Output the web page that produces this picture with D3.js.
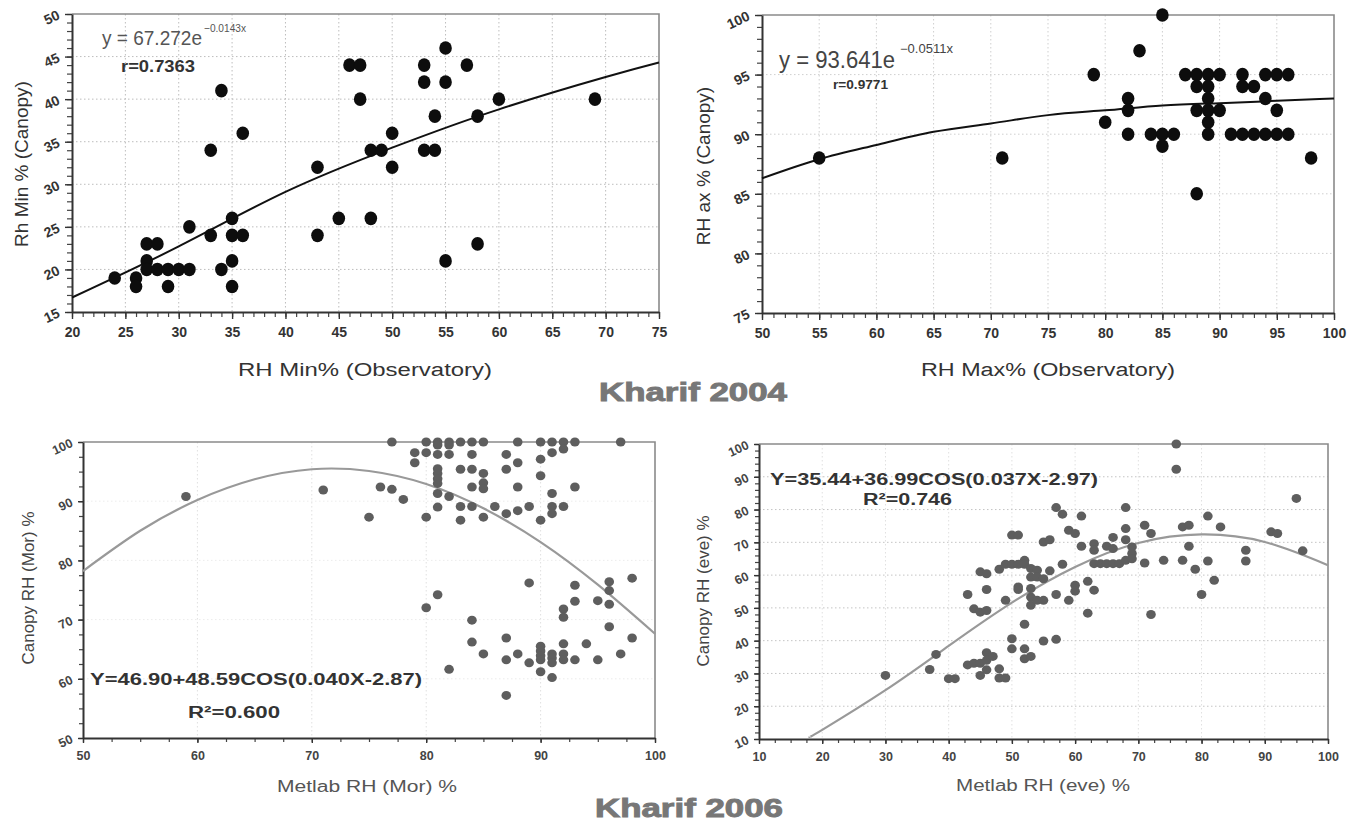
<!DOCTYPE html>
<html>
<head>
<meta charset="utf-8">
<title>Kharif RH canopy vs observatory</title>
<script src="https://cdn.jsdelivr.net/npm/d3@7"></script>
<style>
  body { margin: 0; background: #fff; }
  text { font-family: Arial, "Liberation Sans", sans-serif; }
</style>
</head>
<body>
<svg id="mainsvg" width="1361" height="829"></svg>
<script>
// ---- values ----
// Kharif 2004, RH min: observatory (x) vs canopy (y)
const rhMinPoints = [[24,19],[26,19],[26,18],[27,23],[27,21],[27,20],[28,23],[28,20],[29,20],[29,18],[30,20],[31,20],[31,25],
  [33,24],[33,34],[34,41],[34,20],[35,26],[35,24],[35,21],[35,18],[36,36],[36,24],[43,32],[43,24],[45,26],[46,44],[47,44],
  [47,40],[48,34],[48,26],[49,34],[50,36],[50,32],[53,44],[53,42],[53,34],[54,38],[54,34],[55,46],[55,42],[55,21],[57,44],
  [58,38],[58,23],[60,40],[69,40]];
const rhMinCurve = [[20,16.7],[30,22.7],[40,29.1],[50,34.3],[60,38.8],[70,42.6],[75,44.3]];

// Kharif 2004, RH max
const rhMaxPoints = [[55,88],[71,88],[79,95],[80,91],[82,93],[82,92],[82,90],[83,97],[84,90],[85,100],[85,90],[85,89],[86,90],
  [87,95],[88,95],[88,94],[88,92],[88,85],[89,95],[89,94],[89,93],[89,92],[89,91],[89,90],[90,95],[90,92],[91,90],[92,95],
  [92,94],[92,90],[93,94],[93,90],[94,95],[94,93],[94,90],[95,95],[95,92],[95,90],[96,95],[96,90],[98,88]];
const rhMaxCurve = [[50,86.3],[55,87.9],[60,89.1],[65,90.2],[70,90.9],[75,91.6],[80,92.0],[85,92.4],[90,92.6],[95,92.8],[100,93.0]];

// Kharif 2006, morning RH
const morPoints = [[59,90.8],[71,91.9],[75,87.3],[76,92.4],[77,100],[77,92],[78,90.3],[79,98.2],[79,96.5],[80,100],[80,98.2],
  [80,87.3],[80,72],[81,100],[81,99.5],[81,97.9],[81,95.5],[81,94.7],[81,93.8],[81,93],[81,91.3],[81,89],[81,74.2],[82,100],
  [82,99.5],[82,97.9],[82,90.8],[82,61.6],[83,100],[83,95.4],[83,89.1],[83,86.8],[84,100],[84,97.9],[84,95.4],[84,92.4],[84,89.1],
  [84,69.9],[84,66.2],[85,100],[85,94.7],[85,93.1],[85,92.1],[85,87.3],[85,64.2],[86,89.1],[87,97.9],[87,95.4],[87,87.9],[87,66.9],
  [87,63.2],[87,57.2],[88,100],[88,96.5],[88,92.4],[88,88.4],[88,64.2],[89,89.1],[89,76.2],[89,62.7],[90,100],[90,97.1],[90,94.3],
  [90,86.8],[90,65.5],[90,64.7],[90,63.9],[90,63.2],[90,61.2],[91,100],[91,98.2],[91,91.3],[91,89.1],[91,87.9],[91,64.2],[91,63.5],
  [91,62.7],[91,60.2],[92,100],[92,98.8],[92,89.1],[92,71.8],[92,70.4],[92,65.9],[92,64.2],[92,63.2],[93,100],[93,92.4],[93,75.8],
  [93,73.1],[93,63.2],[94,65.9],[95,73.2],[95,63.2],[96,76.4],[96,74.9],[96,72.6],[96,68.8],[97,100],[97,64.2],[98,77],[98,66.9]];
const morCurve = [[50,78.2],[55,85.0],[60,90.2],[65,93.7],[70,95.4],[75,95.1],[80,92.9],[85,88.8],[90,83.1],[95,75.9],[100,67.6]];

// Kharif 2006, evening RH
const evePoints = [[30,29.4],[37,31.2],[38,35.8],[40,28.4],[41,28.4],[43,54.1],[43,32.6],[44,49.7],[44,33.1],[45,61],[45,48.7],
  [45,33.1],[45,29.4],[46,60.4],[46,55.6],[46,49.2],[46,36.3],[46,34],[46,31.1],[47,35.2],[48,61.8],[48,31.4],[48,28.6],[49,52.3],
  [49,63.3],[49,28.6],[50,72.2],[50,63.3],[50,40.6],[50,37.5],[51,72.2],[51,63.3],[51,56.4],[51,55.6],[52,64.5],[52,63.3],[52,45],
  [52,37.5],[52,34.5],[53,62],[53,59.4],[53,55.9],[53,53.3],[53,50.8],[53,35.2],[54,61.5],[54,59.4],[54,52.3],[55,70.1],[55,58.9],
  [55,52.3],[55,39.9],[56,70.8],[56,61.3],[57,80.6],[57,54.1],[57,40.4],[58,78.6],[58,63.3],[59,73.7],[59,52.3],[60,72.7],[60,56.9],
  [60,55.1],[61,78],[61,68.8],[62,58.1],[62,48.4],[63,69.6],[63,67.6],[63,63.5],[63,55.4],[64,63.5],[65,68.8],[65,63.5],[66,71.5],
  [66,68.1],[66,63.5],[67,63.5],[68,80.6],[68,74.2],[68,70.8],[68,64.5],[69,68.6],[69,66.6],[69,65],[71,75.2],[71,63.7],[72,72.7],
  [72,48],[74,64.5],[76,100],[76,92.3],[77,74.7],[77,64.5],[78,75.2],[78,68.8],[79,61.8],[80,54.1],[81,78],[81,64.3],[82,58.4],
  [83,74.7],[87,67.6],[87,64.3],[91,73.2],[92,72.7],[95,83.4],[96,67.4]];
const eveCurve = [[18,10.6],[20,12.8],[30,24.9],[40,38.4],[50,51.6],[60,62.5],[70,69.8],[80,72.4],[90,70.1],[100,63.0]];

// tick labels
const minXTicks = [20,25,30,35,40,45,50,55,60,65,70,75];
const minYTicks = [15,20,25,30,35,40,45,50];
const maxXTicks = [50,55,60,65,70,75,80,85,90,95,100];
const maxYTicks = [75,80,85,90,95,100];
const morXTicks = [50,60,70,80,90,100];
const morYTicks = [50,60,70,80,90,100];
const eveXTicks = [10,20,30,40,50,60,70,80,90,100];
const eveYTicks = [10,20,30,40,50,60,70,80,90,100];

const svg = d3.select("#mainsvg");

function panel(cfg) {
  const { box } = cfg;
  const x = d3.scaleLinear().domain(cfg.xDomain).range([box.l, box.r]);
  const y = d3.scaleLinear().domain(cfg.yDomain).range([box.b, box.t]);
  const g = svg.append("g");

  // grid (dotted)
  g.selectAll(".vgrid").data(cfg.xTicks.slice(1, -1)).join("line")
    .attr("x1", d => x(d)).attr("x2", d => x(d)).attr("y1", box.t).attr("y2", box.b)
    .attr("stroke", cfg.vGrid).attr("stroke-dasharray", "1.5,2.5");
  g.selectAll(".hgrid").data(cfg.yTicks.slice(1, -1)).join("line")
    .attr("x1", box.l).attr("x2", box.r).attr("y1", d => y(d)).attr("y2", d => y(d))
    .attr("stroke", cfg.hGrid).attr("stroke-dasharray", "1.5,2.5");

  // frame top / right
  g.append("path")
    .attr("d", `M${box.l},${box.t}H${box.r}V${box.b}`)
    .attr("fill", "none").attr("stroke", "#8a8a8a").attr("stroke-width", 1.6);

  // minor ticks
  const xMinor = d3.range(cfg.xDomain[0], cfg.xDomain[1] + 1e-6, cfg.xMinor);
  const yMinor = d3.range(cfg.yDomain[0], cfg.yDomain[1] + 1e-6, cfg.yMinor);
  g.append("g").attr("transform", `translate(0,${box.b})`)
    .call(d3.axisBottom(x).tickValues(xMinor).tickSize(cfg.minorLen).tickFormat(""))
    .call(a => a.select(".domain").remove())
    .selectAll("line").attr("stroke", "#444").attr("stroke-width", 1.2);
  g.append("g").attr("transform", `translate(${box.l},0)`)
    .call(d3.axisLeft(y).tickValues(yMinor).tickSize(cfg.minorLen).tickFormat(""))
    .call(a => a.select(".domain").remove())
    .selectAll("line").attr("stroke", "#444").attr("stroke-width", 1.2);

  // major axes
  const ax = g.append("g").attr("transform", `translate(0,${box.b})`)
    .call(d3.axisBottom(x).tickValues(cfg.xTicks).tickSize(cfg.majorLen).tickSizeOuter(0).tickPadding(cfg.xPad));
  const ay = g.append("g").attr("transform", `translate(${box.l},0)`)
    .call(d3.axisLeft(y).tickValues(cfg.yTicks).tickSize(cfg.majorLen).tickSizeOuter(0).tickPadding(cfg.yPad));
  [ax, ay].forEach(a => {
    a.select(".domain").attr("stroke", "#333").attr("stroke-width", 2);
    a.selectAll(".tick line").attr("stroke", "#333").attr("stroke-width", 1.4);
    a.selectAll("text").attr("font-family", "Arial, 'Liberation Sans', sans-serif")
      .attr("font-weight", "bold").attr("font-size", cfg.tickSize).attr("fill", cfg.tickColor);
  });
  // y labels are tilted in the figure
  ay.selectAll("text").attr("transform", `rotate(-25, ${-(cfg.majorLen + cfg.yPad)}, 0)`);

  // fitted curve
  const line = d3.line().x(d => x(d[0])).y(d => y(d[1])).curve(d3.curveNatural);
  g.append("path").datum(cfg.curve).attr("d", line)
    .attr("fill", "none").attr("stroke", cfg.curveColor).attr("stroke-width", cfg.curveWidth);

  // points
  g.selectAll(".dot").data(cfg.points).join("ellipse")
    .attr("cx", d => x(d[0])).attr("cy", d => y(d[1]))
    .attr("rx", cfg.dotRx).attr("ry", cfg.dotRy).attr("fill", cfg.dotColor);

  // axis titles
  g.append("text").attr("x", cfg.xTitle.x).attr("y", cfg.xTitle.y).attr("text-anchor", "middle")
    .attr("font-size", cfg.xTitle.size).attr("fill", cfg.xTitle.color)
    .attr("textLength", cfg.xTitle.w).attr("lengthAdjust", "spacingAndGlyphs").text(cfg.xTitle.text);
  g.append("text").attr("transform", `translate(${cfg.yTitle.x},${cfg.yTitle.y}) rotate(-90)`)
    .attr("text-anchor", "middle").attr("font-size", cfg.yTitle.size).attr("fill", cfg.yTitle.color)
    .text(cfg.yTitle.text);

  // equation / r annotations
  cfg.notes.forEach(n => {
    const t = g.append("text").attr("x", n.x).attr("y", n.y)
      .attr("font-size", n.size).attr("fill", n.color)
      .attr("font-weight", n.bold ? "bold" : "normal")
      .attr("font-family", n.serif ? "'Liberation Serif', 'Times New Roman', serif" : "Arial, 'Liberation Sans', sans-serif")
      .text(n.text);
    if (n.w) t.attr("textLength", n.w).attr("lengthAdjust", "spacingAndGlyphs");
  });
}

panel({
  box: { l: 72, r: 659, t: 14, b: 312 }, xDomain: [20, 75], yDomain: [15, 50],
  xTicks: minXTicks, yTicks: minYTicks, xMinor: 1, yMinor: 1, majorLen: 7, minorLen: 5,
  xPad: 8, yPad: 6, tickSize: 14, tickColor: "#333", vGrid: "#bdbdbd", hGrid: "#bdbdbd",
  points: rhMinPoints, curve: rhMinCurve, curveColor: "#111", curveWidth: 2,
  dotRx: 6.3, dotRy: 6.8, dotColor: "#0d0d0d",
  xTitle: { text: "RH Min% (Observatory)", x: 365, y: 376, size: 18, color: "#333", w: 254 },
  yTitle: { text: "Rh Min % (Canopy)", x: 28, y: 164, size: 19, color: "#333" },
  notes: [
    { text: "y = 67.272e", x: 102, y: 45, size: 20, color: "#555", serif: true, w: 100 },
    { text: "\u22120.0143x", x: 204, y: 32, size: 11, color: "#555", serif: true, w: 42 },
    { text: "r=0.7363", x: 121, y: 72, size: 16, color: "#333", bold: true, w: 74 }
  ]
});

panel({
  box: { l: 762, r: 1334, t: 15, b: 313 }, xDomain: [50, 100], yDomain: [75, 100],
  xTicks: maxXTicks, yTicks: maxYTicks, xMinor: 1, yMinor: 1, majorLen: 7, minorLen: 5,
  xPad: 8, yPad: 6, tickSize: 14, tickColor: "#333", vGrid: "#cfcfcf", hGrid: "#cfcfcf",
  points: rhMaxPoints, curve: rhMaxCurve, curveColor: "#111", curveWidth: 2,
  dotRx: 6.3, dotRy: 6.8, dotColor: "#0d0d0d",
  xTitle: { text: "RH Max% (Observatory)", x: 1048, y: 376, size: 18, color: "#333", w: 254 },
  yTitle: { text: "RH ax % (Canopy)", x: 710, y: 166, size: 19, color: "#333" },
  notes: [
    { text: "y = 93.641e", x: 779, y: 68, size: 24, color: "#444", serif: true, w: 116 },
    { text: "\u22120.0511x", x: 900, y: 53, size: 12, color: "#444", serif: true, w: 53 },
    { text: "r=0.9771", x: 833, y: 89, size: 12, color: "#333", bold: true, w: 55 }
  ]
});

panel({
  box: { l: 83, r: 655, t: 442, b: 738 }, xDomain: [50, 100], yDomain: [50, 100],
  xTicks: morXTicks, yTicks: morYTicks, xMinor: 2.5, yMinor: 2.5, majorLen: 5, minorLen: 4,
  xPad: 8, yPad: 6, tickSize: 12.5, tickColor: "#444", vGrid: "#e0e0e0", hGrid: "#ececec",
  points: morPoints, curve: morCurve, curveColor: "#999", curveWidth: 2.2,
  dotRx: 4.8, dotRy: 4.5, dotColor: "#5e5e5e",
  xTitle: { text: "Metlab RH (Mor) %", x: 367, y: 792, size: 16, color: "#555", w: 180 },
  yTitle: { text: "Canopy RH (Mor) %", x: 34, y: 588, size: 17, color: "#444" },
  notes: [
    { text: "Y=46.90+48.59COS(0.040X-2.87)", x: 90, y: 685, size: 16, color: "#333", bold: true, w: 332 },
    { text: "R\u00b2=0.600", x: 188, y: 718, size: 16, color: "#333", bold: true, w: 92 }
  ]
});

panel({
  box: { l: 759, r: 1328, t: 444, b: 739 }, xDomain: [10, 100], yDomain: [10, 100],
  xTicks: eveXTicks, yTicks: eveYTicks, xMinor: 2.5, yMinor: 2, majorLen: 5, minorLen: 4,
  xPad: 8, yPad: 6, tickSize: 12.5, tickColor: "#444", vGrid: "#e0e0e0", hGrid: "#c4c4c4",
  points: evePoints, curve: eveCurve, curveColor: "#999", curveWidth: 2.2,
  dotRx: 4.8, dotRy: 4.5, dotColor: "#5e5e5e",
  xTitle: { text: "Metlab RH (eve) %", x: 1043, y: 791, size: 16, color: "#555", w: 174 },
  yTitle: { text: "Canopy RH (eve) %", x: 709, y: 591, size: 17, color: "#444" },
  notes: [
    { text: "Y=35.44+36.99COS(0.037X-2.97)", x: 770, y: 485, size: 16, color: "#333", bold: true, w: 328 },
    { text: "R\u00b2=0.746", x: 863, y: 505, size: 16, color: "#333", bold: true, w: 89 }
  ]
});

// section titles
[["Kharif 2004", 693, 401], ["Kharif 2006", 689, 817]].forEach(([t, cx, cy]) => {
  svg.append("text").attr("x", cx).attr("y", cy).attr("text-anchor", "middle")
    .attr("font-family", "'DejaVu Sans', sans-serif").attr("font-weight", "bold")
    .attr("font-size", 25).attr("fill", "#777").attr("stroke", "#777").attr("stroke-width", 0.9)
    .attr("textLength", 188).attr("lengthAdjust", "spacingAndGlyphs").text(t);
});
</script>
</body>
</html>
